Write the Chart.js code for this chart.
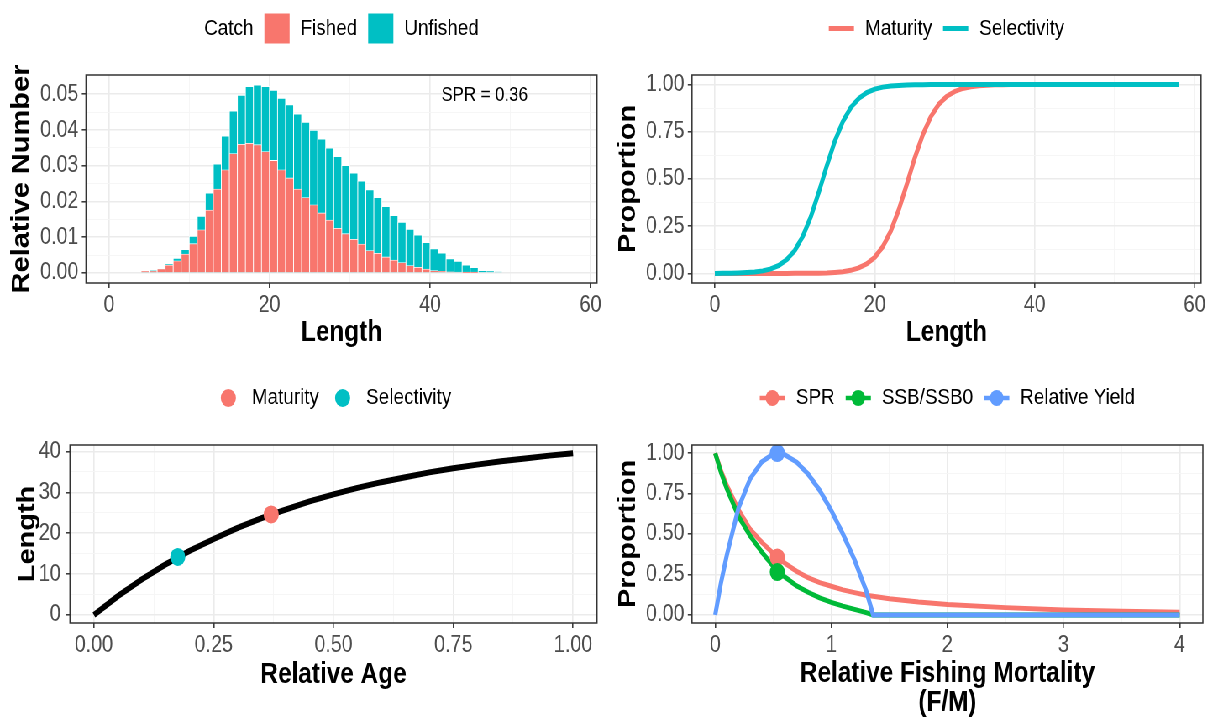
<!DOCTYPE html>
<html lang="en">
  <head>
    <meta charset="UTF-8" />
    <title>Catch, maturity and yield per recruit</title>
    <script src="https://cdn.jsdelivr.net/npm/chart.js"></script>
    <style>
      html,
      body {
        margin: 0;
        padding: 0;
        background: #fff;
      }
      body {
        width: 1213px;
        height: 718px;
        overflow: hidden;
      }
      /* the original figure is squeezed sideways, so draw wide and squeeze */
      #stage {
        position: absolute;
        left: 0;
        top: 0;
        width: 1444px;
        height: 718px;
        transform: scaleX(0.84);
        transform-origin: 0 0;
      }
      #stage canvas {
        position: absolute;
      }
    </style>
  </head>
  <body>
    <div id="stage">
      <canvas id="catchChart" width="722" height="359" style="left: 0; top: 0"></canvas>
      <canvas id="ogiveChart" width="722" height="359" style="left: 722px; top: 0"></canvas>
      <canvas id="growthChart" width="722" height="359" style="left: 0; top: 359px"></canvas>
      <canvas id="yieldChart" width="722" height="359" style="left: 722px; top: 359px"></canvas>
    </div>

    <script>
      const FONT = '"Liberation Sans", Arial, sans-serif';
      const RED = "#F8766D";
      const TEAL = "#00BFC4";
      const GREEN = "#00BA38";
      const BLUE = "#619CFF";

      // CATCH AT LENGTH
      const binMids = [
        4.5, 5.5, 6.5, 7.5, 8.5, 9.5, 10.5, 11.5, 12.5, 13.5, 14.5, 15.5, 16.5,
        17.5, 18.5, 19.5, 20.5, 21.5, 22.5, 23.5, 24.5, 25.5, 26.5, 27.5, 28.5,
        29.5, 30.5, 31.5, 32.5, 33.5, 34.5, 35.5, 36.5, 37.5, 38.5, 39.5, 40.5,
        41.5, 42.5, 43.5, 44.5, 45.5, 46.5, 47.5, 48.5,
      ];
      const fished = [
        0.0005, 0.0006, 0.0012, 0.0022, 0.0034, 0.0053, 0.0082, 0.0121, 0.0176,
        0.0235, 0.0289, 0.0334, 0.036, 0.0363, 0.0359, 0.034, 0.0315, 0.0289,
        0.0266, 0.0235, 0.0211, 0.0191, 0.0168, 0.0148, 0.0125, 0.011, 0.0094,
        0.0081, 0.0063, 0.0055, 0.0045, 0.0036, 0.0029, 0.0021, 0.0016, 0.0011,
        0.0007, 0.0005, 0.0003, 0.0002, 0.0001, 0.0001, 0, 0, 0,
      ];
      const unfished = [
        0.0005, 0.0008, 0.0012, 0.0026, 0.0041, 0.0066, 0.0103, 0.0159, 0.0224,
        0.0305, 0.0383, 0.0453, 0.0497, 0.0522, 0.0526, 0.0522, 0.0511, 0.0489,
        0.0471, 0.0445, 0.0422, 0.0399, 0.0375, 0.035, 0.0326, 0.0301, 0.028,
        0.0257, 0.0233, 0.0211, 0.0186, 0.0161, 0.0142, 0.0122, 0.0106, 0.0085,
        0.0068, 0.0056, 0.004, 0.0033, 0.0022, 0.0015, 0.0007, 0.0005, 0.0003,
      ];
      const lengthMajor = [0, 20, 40, 60];
      const lengthMinor = [10, 30, 50];
      const numberMajor = [0, 0.01, 0.02, 0.03, 0.04, 0.05];
      const numberMinor = [0.005, 0.015, 0.025, 0.035, 0.045];

      // MATURITY / SELECTIVITY OGIVES
      const lengths = [
        0, 1, 2, 3, 4, 5, 6, 7, 8, 9, 10, 11, 12, 13, 14, 15, 16, 17, 18, 19,
        20, 21, 22, 23, 24, 25, 26, 27, 28, 29, 30, 31, 32, 33, 34, 35, 36, 37,
        38, 39, 40, 41, 42, 43, 44, 45, 46, 47, 48, 49, 50, 51, 52, 53, 54, 55,
        56, 57, 58,
      ];
      const maturity = [
        0,
        0, 0, 0, 0, 0, 0, 0, 0, 0, 0.001,
        0.001, 0.001, 0.002, 0.003, 0.006, 0.01, 0.017, 0.03, 0.051, 0.086,
        0.142, 0.225, 0.337, 0.472, 0.611, 0.734, 0.829, 0.895, 0.937, 0.963,
        0.979, 0.988, 0.993, 0.996, 0.998, 0.999, 1, 1, 1, 1,
        1, 1, 1, 1, 1, 1, 1, 1, 1, 1,
        1, 1, 1, 1, 1, 1, 1, 1,
      ];
      const selectivity = [
        0.0005,
        0.001, 0.0015, 0.003, 0.005, 0.008, 0.014, 0.025, 0.043, 0.074, 0.122,
        0.197, 0.3, 0.43, 0.57, 0.7, 0.803, 0.878, 0.926, 0.957, 0.975,
        0.986, 0.992, 0.995, 0.997, 0.998, 0.999, 1, 1, 1, 1,
        1, 1, 1, 1, 1, 1, 1, 1, 1, 1,
        1, 1, 1, 1, 1, 1, 1, 1, 1, 1,
        1, 1, 1, 1, 1, 1, 1, 1,
      ];
      const propMajor = [0, 0.25, 0.5, 0.75, 1];
      const propMinor = [0.125, 0.375, 0.625, 0.875];

      // GROWTH CURVE
      const relAge = [
        0, 0.05, 0.1, 0.15, 0.2, 0.25, 0.3, 0.35, 0.4, 0.45, 0.5, 0.55, 0.6,
        0.65, 0.7, 0.75, 0.8, 0.85, 0.9, 0.95, 1,
      ];
      const lenAtAge = [
        0, 4.6, 8.7, 12.4, 15.7, 18.6, 21.3, 23.7, 25.8, 27.8, 29.5, 31.1, 32.5,
        33.7, 34.9, 35.9, 36.8, 37.6, 38.3, 39.0, 39.6,
      ];
      const matAge = [0.37];
      const matLen = [24.6];
      const selAge = [0.175];
      const selLen = [14.2];
      const ageMajor = [0, 0.25, 0.5, 0.75, 1];
      const ageMinor = [0.125, 0.375, 0.625, 0.875];
      const lenMajor = [0, 10, 20, 30, 40];
      const lenMinor = [5, 15, 25, 35];

      // PER-RECRUIT CURVES
      const fm = [
        0, 0.05, 0.1, 0.2, 0.3, 0.4, 0.5, 0.6, 0.7, 0.8, 0.9, 1.0, 1.1, 1.2,
        1.3, 1.36, 1.5, 1.75, 2, 2.5, 3, 3.5, 4,
      ];
      const spr = [
        1, 0.89, 0.8, 0.65, 0.53, 0.45, 0.38, 0.32, 0.27, 0.23, 0.2, 0.177,
        0.155, 0.138, 0.122, 0.115, 0.1, 0.08, 0.065, 0.045, 0.03, 0.022, 0.016,
      ];
      const ssb = [
        1, 0.88, 0.78, 0.61, 0.49, 0.39, 0.3, 0.235, 0.18, 0.14, 0.105, 0.078,
        0.054, 0.034, 0.014, 0, 0, 0, 0, 0, 0, 0, 0,
      ];
      const yieldRel = [
        0, 0.2, 0.37, 0.66, 0.84, 0.945, 0.995, 0.99, 0.945, 0.87, 0.77, 0.645,
        0.5, 0.34, 0.15, 0, 0, 0, 0, 0, 0, 0, 0,
      ];
      const refF = [0.535];
      const refSpr = [0.355];
      const refSsb = [0.265];
      const refYield = [1.0];
      const fmMajor = [0, 1, 2, 3, 4];
      const fmMinor = [0.5, 1.5, 2.5, 3.5];

      const pts = (xs, ys) => xs.map((x, i) => ({ x: x, y: ys[i] }));
      const fix = (d) => (v) => v.toFixed(d);

      // ggplot-ish axis: major + minor grid, labels only on majors
      function ggAxis(o) {
        const isMajor = (v) => o.major.some((m) => Math.abs(m - v) < 1e-9);
        const tickIsMajor = (c) => c.tick && isMajor(c.tick.value);
        return {
          type: "linear",
          position: o.position,
          bounds: "data",
          min: o.min,
          max: o.max,
          offset: false,
          afterBuildTicks: (s) => {
            s.ticks = o.major
              .concat(o.minor)
              .sort((a, b) => a - b)
              .map((v) => ({ value: v }));
          },
          afterFit: (s) => {
            if (o.position === "bottom") s.height = o.size;
            else s.width = o.size;
          },
          ticks: {
            autoSkip: false,
            maxRotation: 0,
            color: "#4D4D4D",
            padding: o.tickPad,
            font: { family: FONT, size: 23.5 },
            callback: (v) => (isMajor(v) ? o.fmt(v) : ""),
          },
          grid: {
            offset: false,
            color: (c) => (tickIsMajor(c) ? "#EBEBEB" : "#F5F5F5"),
            lineWidth: (c) => (tickIsMajor(c) ? 1.6 : 0.9),
            tickColor: (c) => (tickIsMajor(c) ? "#333333" : "rgba(0,0,0,0)"),
            tickLength: 5,
            tickWidth: 1.5,
          },
          border: { display: false },
          title: {
            display: true,
            text: o.title,
            color: "#000",
            font: { family: FONT, size: 29, weight: "bold", lineHeight: o.lh || 1.2 },
            padding: o.titlePad,
          },
        };
      }

      const frame = {
        id: "frame",
        afterDatasetsDraw(chart) {
          const { ctx, chartArea: a } = chart;
          ctx.save();
          ctx.strokeStyle = "#333333";
          ctx.lineWidth = 1.5;
          ctx.strokeRect(a.left, a.top, a.right - a.left, a.bottom - a.top);
          ctx.restore();
        },
      };

      function drawKey(ctx, it, x, y, key) {
        ctx.fillStyle = it.color;
        ctx.strokeStyle = it.color;
        if (it.kind === "square") {
          ctx.fillRect(x, y - key / 2, key, key);
        }
        if (it.kind === "line" || it.kind === "linepoint") {
          ctx.lineWidth = it.kind === "line" ? 5 : 4.5;
          ctx.beginPath();
          ctx.moveTo(x, y);
          ctx.lineTo(x + key, y);
          ctx.stroke();
        }
        if (it.kind === "point" || it.kind === "linepoint") {
          ctx.beginPath();
          ctx.arc(x + key / 2, y, it.kind === "point" ? 9 : 8, 0, Math.PI * 2);
          ctx.fill();
        }
      }

      // legend above the panel, centred on the plot area
      function ggLegend(cfg) {
        return {
          id: "ggLegend",
          afterDraw(chart) {
            const { ctx, chartArea: a } = chart;
            const key = 30;
            const gap = 13;
            ctx.save();
            ctx.font = "22.5px " + FONT;
            ctx.textBaseline = "middle";
            const widths = cfg.items.map((it) => ctx.measureText(it.text).width);
            let total = gap * (cfg.items.length - 1);
            cfg.items.forEach((it, i) => {
              total += widths[i] + (it.kind === "title" ? 0 : key + gap);
            });
            let x = (a.left + a.right) / 2 - total / 2;
            cfg.items.forEach((it, i) => {
              if (it.kind !== "title") {
                drawKey(ctx, it, x, cfg.y, key);
                x += key + gap;
              }
              ctx.fillStyle = "#000";
              ctx.fillText(it.text, x, cfg.y);
              x += widths[i] + gap;
            });
            ctx.restore();
          },
        };
      }

      const sprNote = {
        id: "sprNote",
        afterDatasetsDraw(chart) {
          const { ctx, scales } = chart;
          ctx.save();
          ctx.font = "20px " + FONT;
          ctx.fillStyle = "#000";
          ctx.textAlign = "center";
          ctx.textBaseline = "middle";
          ctx.fillText("SPR = 0.36", scales.x.getPixelForValue(46.8), scales.y.getPixelForValue(0.0496));
          ctx.restore();
        },
      };

      const base = {
        responsive: false,
        animation: false,
        events: [],
      };
      const quiet = { legend: { display: false }, tooltip: { enabled: false } };

      // CATCH CHART
      new Chart(document.getElementById("catchChart"), {
        type: "bar",
        data: {
          datasets: [
            {
              label: "Fished",
              data: pts(binMids, fished),
              backgroundColor: RED,
            },
            {
              label: "Unfished",
              data: pts(binMids, unfished),
              backgroundColor: TEAL,
            },
          ],
        },
        options: {
          ...base,
          layout: { padding: { top: 75, right: 11.3, left: 0, bottom: 0 } },
          datasets: {
            bar: {
              grouped: false,
              barPercentage: 1,
              categoryPercentage: 1,
              borderColor: "#ffffff",
              borderWidth: { left: 0.8, right: 0.8, top: 0.8, bottom: 0 },
              borderSkipped: false,
            },
          },
          plugins: quiet,
          scales: {
            x: ggAxis({
              position: "bottom", min: -2.86, max: 60.8, major: lengthMajor, minor: lengthMinor,
              fmt: String, size: 76, tickPad: 3.5, title: "Length", titlePad: { top: 0, bottom: 9 },
            }),
            y: ggAxis({
              position: "left", min: -0.0028, max: 0.0554, major: numberMajor, minor: numberMinor,
              fmt: fix(2), size: 102.4, tickPad: 4, title: "Relative Number", titlePad: { top: 8.4, bottom: 0 },
            }),
          },
        },
        plugins: [
          frame,
          sprNote,
          ggLegend({
            y: 28.5,
            items: [
              { kind: "title", text: "Catch" },
              { kind: "square", text: "Fished", color: RED },
              { kind: "square", text: "Unfished", color: TEAL },
            ],
          }),
        ],
      });

      // OGIVE CHART
      new Chart(document.getElementById("ogiveChart"), {
        type: "scatter",
        data: {
          datasets: [
            {
              label: "Selectivity",
              data: pts(lengths, selectivity),
              showLine: true,
              borderColor: TEAL,
              borderWidth: 5,
              pointRadius: 0,
            },
            {
              label: "Maturity",
              data: pts(lengths, maturity),
              showLine: true,
              borderColor: RED,
              borderWidth: 5,
              pointRadius: 0,
            },
          ],
        },
        options: {
          ...base,
          layout: { padding: { top: 75, right: 14.2, left: 0, bottom: 0 } },
          plugins: quiet,
          scales: {
            x: ggAxis({
              position: "bottom", min: -2.86, max: 60.8, major: lengthMajor, minor: lengthMinor,
              fmt: String, size: 76, tickPad: 3.5, title: "Length", titlePad: { top: 0, bottom: 9 },
            }),
            y: ggAxis({
              position: "left", min: -0.05, max: 1.05, major: propMajor, minor: propMinor,
              fmt: fix(2), size: 101.8, tickPad: 4, title: "Proportion", titlePad: { top: 8.3, bottom: 0 },
            }),
          },
        },
        plugins: [
          frame,
          ggLegend({
            y: 28.5,
            items: [
              { kind: "line", text: "Maturity", color: RED },
              { kind: "line", text: "Selectivity", color: TEAL },
            ],
          }),
        ],
      });

      // GROWTH CHART
      new Chart(document.getElementById("growthChart"), {
        type: "scatter",
        data: {
          datasets: [
            {
              label: "Maturity",
              data: pts(matAge, matLen),
              backgroundColor: RED,
              borderWidth: 0,
              pointRadius: 9,
            },
            {
              label: "Selectivity",
              data: pts(selAge, selLen),
              backgroundColor: TEAL,
              borderWidth: 0,
              pointRadius: 9,
            },
            {
              label: "Length",
              data: pts(relAge, lenAtAge),
              showLine: true,
              borderColor: "#000",
              borderWidth: 6,
              pointRadius: 0,
            },
          ],
        },
        options: {
          ...base,
          layout: { padding: { top: 86, right: 11.3, left: 0, bottom: 0 } },
          plugins: quiet,
          scales: {
            x: ggAxis({
              position: "bottom", min: -0.05, max: 1.05, major: ageMajor, minor: ageMinor,
              fmt: fix(2), size: 95, tickPad: 3, title: "Relative Age", titlePad: { top: 0, bottom: 26 },
            }),
            y: ggAxis({
              position: "left", min: -1.98, max: 41.6, major: lenMajor, minor: lenMinor,
              fmt: String, size: 83.3, tickPad: 6, title: "Length", titlePad: { top: 16, bottom: 0 },
            }),
          },
        },
        plugins: [
          frame,
          ggLegend({
            y: 39,
            items: [
              { kind: "point", text: "Maturity", color: RED },
              { kind: "point", text: "Selectivity", color: TEAL },
            ],
          }),
        ],
      });

      // YIELD CHART
      new Chart(document.getElementById("yieldChart"), {
        type: "scatter",
        data: {
          datasets: [
            { label: "Relative Yield", data: pts(refF, refYield), backgroundColor: BLUE, borderWidth: 0, pointRadius: 9 },
            { label: "SSB/SSB0", data: pts(refF, refSsb), backgroundColor: GREEN, borderWidth: 0, pointRadius: 9 },
            { label: "SPR", data: pts(refF, refSpr), backgroundColor: RED, borderWidth: 0, pointRadius: 9 },
            {
              label: "Relative Yield",
              data: pts(fm, yieldRel),
              showLine: true,
              borderColor: BLUE,
              borderWidth: 5,
              pointRadius: 0,
            },
            {
              label: "SSB/SSB0",
              data: pts(fm, ssb),
              showLine: true,
              borderColor: GREEN,
              borderWidth: 5,
              pointRadius: 0,
            },
            {
              label: "SPR",
              data: pts(fm, spr),
              showLine: true,
              borderColor: RED,
              borderWidth: 5,
              pointRadius: 0,
            },
          ],
        },
        options: {
          ...base,
          layout: { padding: { top: 86, right: 12, left: 0, bottom: 0 } },
          plugins: quiet,
          scales: {
            x: ggAxis({
              position: "bottom", min: -0.2, max: 4.2, major: fmMajor, minor: fmMinor,
              fmt: String, size: 95, tickPad: 3, lh: 1.0,
              title: ["Relative Fishing Mortality", "(F/M)"], titlePad: { top: 0, bottom: 1 },
            }),
            y: ggAxis({
              position: "left", min: -0.05, max: 1.05, major: propMajor, minor: propMinor,
              fmt: fix(2), size: 101.8, tickPad: 4, title: "Proportion", titlePad: { top: 8.3, bottom: 0 },
            }),
          },
        },
        plugins: [
          frame,
          ggLegend({
            y: 39,
            items: [
              { kind: "linepoint", text: "SPR", color: RED },
              { kind: "linepoint", text: "SSB/SSB0", color: GREEN },
              { kind: "linepoint", text: "Relative Yield", color: BLUE },
            ],
          }),
        ],
      });
    </script>
  </body>
</html>
